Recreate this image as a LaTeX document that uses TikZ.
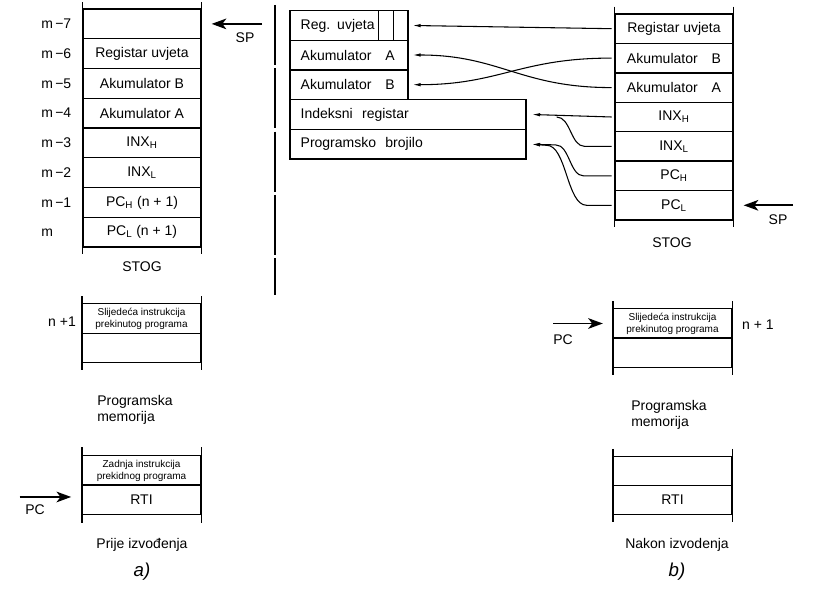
\documentclass[tikz,border=0pt]{standalone}
\usepackage{fontspec}
\setmainfont{Liberation Sans}
\usetikzlibrary{arrows.meta}

\begin{document}
\begin{tikzpicture}[x=0.75pt, y=-0.75pt,
                every node/.style={font=\fontsize{10.5}{12.5}\selectfont},
                cell/.style={draw, line width=1pt, minimum width=88.5pt, minimum height=22.2pt, inner sep=0pt, align=center},
                midcell/.style={draw, line width=1pt, minimum height=22.2pt, inner xsep=8pt, inner ysep=0pt, text width=72.5pt, align=left},
                widecell/.style={midcell, text width=161pt},
                small/.style={font=\fontsize{7.5}{9}\selectfont},
                wall/.style={line width=1pt},
                link/.style={line width=0.8pt, -{Latex[length=6pt, width=2.6pt]}},
                pointer/.style={line width=1.3pt, -{Stealth[length=11pt, width=8pt, inset=3pt]}}]

                \useasboundingbox (0,0) rectangle (827,595);

                % Stack before
                \node[cell] (lr1) at (142,23.9) {};
                \node[cell] (lr2) at (142,53.6) {Registar uvjeta};
                \node[cell] (lr3) at (142,83.4) {Akumulator B};
                \node[cell] (lr4) at (142,113.1) {Akumulator A};
                \node[cell] (lr5) at (142,142.9) {INX\textsubscript{H}};
                \node[cell] (lr6) at (142,172.6) {INX\textsubscript{L}};
                \node[cell] (lr7) at (142,202.4) {PC\textsubscript{H} (n + 1)};
                \node[cell] (lr8) at (142,232.1) {PC\textsubscript{L} (n + 1)};
                \draw[wall] ([yshift=4.5pt]lr1.north west) -- ([yshift=-4.5pt]lr8.south west);
                \draw[wall] ([yshift=4.5pt]lr1.north east) -- ([yshift=-4.5pt]lr8.south east);

                \node[anchor=east] (la1) at (76,23.9) {m\,−7};
                \node[anchor=east] (la2) at (76,53.6) {m\,−6};
                \node[anchor=east] (la3) at (76,83.4) {m\,−5};
                \node[anchor=east] (la4) at (76,113.1) {m\,−4};
                \node[anchor=east] (la5) at (76,142.9) {m\,−3};
                \node[anchor=east] (la6) at (76,172.6) {m\,−2};
                \node[anchor=east] (la7) at (76,202.4) {m\,−1};
                \node[anchor=east] (la8) at (76,232.1) {m\phantom{\,−1}};
                \node (lstog) at (142,267) {STOG};

                \coordinate (lsp) at (262,23.9);
                \draw[pointer] (lsp) -- ([xshift=7.5pt]lr1.east);
                \node (lsplab) at (245,38) {SP};

                % Separator
                \draw[line width=1pt, dash pattern=on 45pt off 2.5pt] (275,5) -- (275,295);

                % Registers
                \node[midcell] (mreg) at (349,25.5) {Reg. uvjeta};
                \node[midcell] (mA) at (349,55) {Akumulator\quad A};
                \node[midcell] (mB) at (349,84.7) {Akumulator\quad B};
                \node[widecell] (mind) at (408,114.5) {Indeksni\ \ registar};
                \node[widecell] (mprog) at (408,144.3) {Programsko\ \ brojilo};
                \draw[wall] ([xshift=-22.5pt]mreg.north east) -- ([xshift=-22.5pt]mreg.south east);
                \draw[wall] ([xshift=-11.25pt]mreg.north east) -- ([xshift=-11.25pt]mreg.south east);

                % Stack after
                \node[cell] (rr1) at (674,28.7) {Registar uvjeta};
                \node[cell] (rr2) at (674,58.1) {Akumulator\quad B};
                \node[cell] (rr3) at (674,87.6) {Akumulator\quad A};
                \node[cell] (rr4) at (674,117) {INX\textsubscript{H}};
                \node[cell] (rr5) at (674,146.4) {INX\textsubscript{L}};
                \node[cell] (rr6) at (674,175.9) {PC\textsubscript{H}};
                \node[cell] (rr7) at (674,205.3) {PC\textsubscript{L}};
                \draw[wall] ([yshift=5pt]rr1.north west) -- ([yshift=-5pt]rr7.south west);
                \draw[wall] ([yshift=5pt]rr1.north east) -- ([yshift=-5pt]rr7.south east);
                \node (rstog) at (672,243) {STOG};

                \coordinate (rsp) at (793,205.3);
                \draw[pointer] (rsp) -- ([xshift=7.5pt]rr7.east);
                \node (rsplab) at (778,220) {SP};

                % Restore
                \draw[link] ([xshift=-2pt]rr1.west) -- ([xshift=3pt]mreg.east);
                \draw[link] ([xshift=-2pt]rr2.west) .. controls (520,58) and (500,84.7) .. ([xshift=3pt]mB.east);
                \draw[link] ([xshift=-2pt]rr3.west) .. controls (520,87.6) and (500,55) .. ([xshift=3pt]mA.east);
                \draw[link] ([xshift=-2pt]rr4.west) -- ([xshift=4pt]mind.east);
                \draw[line width=0.8pt] ([xshift=-2pt]rr5.west) -- ++(-27,0) .. controls +(-14,0) and +(14,0) .. ++(-28,-29.4);
                \draw[link] ([xshift=-2pt]rr6.west) -- ++(-28,0) .. controls +(-14,0) and +(14,0) .. ++(-28,-31) -- ([xshift=4pt]mprog.east);
                \draw[link] ([xshift=-2pt]rr7.west) -- ++(-25,0) .. controls +(-20,0) and +(20,0) .. ++(-40,-60) -- ([xshift=4pt]mprog.east);

                % Memory before
                \node[cell, small] (lm1) at (141.5,318.5) {Slijedeća instrukcija\\prekinutog programa};
                \node[cell] (lm2) at (141.5,348) {};
                \draw[wall] ([yshift=5pt]lm1.north west) -- ([yshift=-5pt]lm2.south west);
                \draw[wall] ([yshift=5pt]lm1.north east) -- ([yshift=-5pt]lm2.south east);
                \node (ln1) at (62,322) {n +1};
                \node[align=left] (lmem) at (135,410) {Programska\\memorija};

                \node[cell, small] (lz) at (141.5,470.5) {Zadnja instrukcija\\prekidnog programa};
                \node[cell] (lrti) at (141.5,499.5) {RTI};
                \draw[wall] ([yshift=6pt]lz.north west) -- ([yshift=-6pt]lrti.south west);
                \draw[wall] ([yshift=6pt]lz.north east) -- ([yshift=-6pt]lrti.south east);

                \coordinate (lpc) at (20,497);
                \draw[pointer] (lpc) -- ([xshift=-8pt,yshift=1.9pt]lrti.west);
                \node (lpclab) at (35,510) {PC};
                \node (lcap) at (142,545) {Prije izvođenja};
                \node[font=\fontsize{14}{16}\selectfont\itshape] (la) at (142,572) {a)};

                % Memory after
                \node[cell, small] (rm1) at (672.5,323.5) {Slijedeća instrukcija\\prekinutog programa};
                \node[cell] (rm2) at (672.5,352.5) {};
                \draw[wall] ([yshift=5pt]rm1.north west) -- ([yshift=-5pt]rm2.south west);
                \draw[wall] ([yshift=5pt]rm1.north east) -- ([yshift=-5pt]rm2.south east);
                \node (rn1) at (758,325) {n + 1};
                \node[align=left] (rmem) at (669,415) {Programska\\memorija};

                \node[cell] (rz) at (672.5,471) {};
                \node[cell] (rrti) at (672.5,500) {RTI};
                \draw[wall] ([yshift=5pt]rz.north west) -- ([yshift=-5pt]rrti.south west);
                \draw[wall] ([yshift=5pt]rz.north east) -- ([yshift=-5pt]rrti.south east);

                \coordinate (rpc) at (553,323.5);
                \draw[pointer] (rpc) -- ([xshift=-7.5pt]rm1.west);
                \node (rpclab) at (563,340) {PC};
                \node (rcap) at (677,545) {Nakon izvodenja};
                \node[font=\fontsize{14}{16}\selectfont\itshape] (rb) at (677,572) {b)};
            \end{tikzpicture}
\end{document}
